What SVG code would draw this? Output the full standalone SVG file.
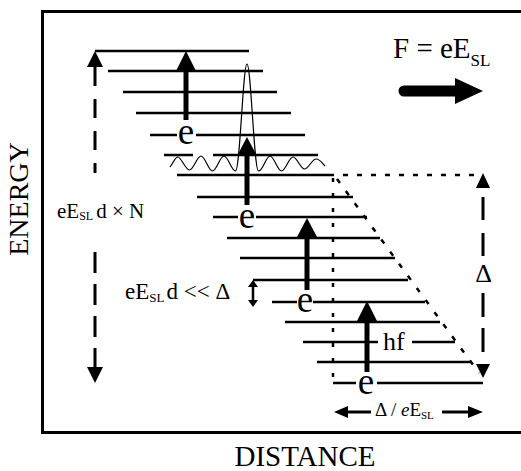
<svg xmlns="http://www.w3.org/2000/svg" width="521" height="471" viewBox="0 0 521 471">
<style>
text{font-family:'Liberation Serif','Times New Roman',serif;fill:#000}
.lvl{stroke:#000;stroke-width:2.5;fill:none}
.shaft{stroke:#000;stroke-width:5;fill:none}
.head{fill:#000;stroke:none}
.dash{stroke:#000;stroke-width:3;fill:none}
.dot{stroke:#000;stroke-width:2.5;fill:none}
.e{font-size:37px;text-anchor:middle}
</style>
<rect width="521" height="471" fill="#fff"/>
<g id="frame"><rect x="42.5" y="11.5" width="520" height="421" fill="none" stroke="#000" stroke-width="3"/></g>
<g id="axis-labels">
<text transform="translate(28,199) rotate(-90)" font-size="28" text-anchor="middle">ENERGY</text>
<text x="305" y="466" font-size="29" text-anchor="middle">DISTANCE</text>
</g>
<g id="levels">
<path class="lvl" d="M95,51H249 M108,71H263 M123,92H277 M136,113H291 M150,135H177 M196,135H305 M164,155H193 M213,155H318 M177,175H334 M197,197H353 M213,217H238 M256,217H367 M227,238H380 M240,258H395 M253,280H408 M272,302H297 M313,302H425 M285,322H440 M303,342H378 M412,342H455 M317,362H472 M333,383H356 M377,383H483"/>
</g>
<g id="wavepacket">
<path fill="none" stroke="#000" stroke-width="1.2" d="M170,167 C174,162 175,157 178,157 S185.5,170 189.5,170 S197,156 201,156 S208.5,171 212.5,171 S220,156 224,156 S231.5,171 235.5,171 C240,171 243,64 247,64 C251,64 254,171 258.5,171 S266,156 270,156 S277.5,171 281.5,171 S289,157 293,157 S300.5,169 304.5,169 S312,159 316,159 S322,163 325,166"/>
</g>
<g id="dotted-guides">
<path class="dot" stroke-dasharray="5 9" d="M343,175H477"/>
<path class="dot" stroke-dasharray="4 11" d="M333,178V383"/>
<path class="dot" stroke-dasharray="5 10" d="M337,179L479,373"/>
</g>
<g id="connectors">
<g id="transition-1"><path class="shaft" d="M186,120V70"/><polygon class="head" points="186,51 196,71 176,71"/></g>
<g id="transition-2"><path class="shaft" d="M247,205V155"/><polygon class="head" points="247,137 257,156 237,156"/></g>
<g id="transition-3"><path class="shaft" d="M307,290V236"/><polygon class="head" points="307,218 317,237 297,237"/></g>
<g id="transition-4"><path class="shaft" d="M367,372V320"/><polygon class="head" points="367,301 377,321 357,321"/></g>
<g id="total-drop">
<polygon class="head" points="95,51 103,67 87,67"/>
<path class="dash" stroke-dasharray="19 13" d="M95,67V173"/>
<path class="dash" stroke-dasharray="21 11" d="M95,252V367"/>
<polygon class="head" points="95,383 103,367 87,367"/>
</g>
<g id="delta-arrow">
<polygon class="head" points="483,173 490,188 476,188"/>
<path class="dash" stroke-dasharray="23 13" d="M483,197V256"/>
<path class="dash" stroke-dasharray="24 11" d="M483,293V362"/>
<polygon class="head" points="483,378 490,364 476,364"/>
</g>
<g id="spacing-arrow">
<polygon class="head" points="253,280 258,287 248,287"/>
<path stroke="#000" stroke-width="2.5" d="M253,286V301"/>
<polygon class="head" points="253,307 258,300 248,300"/>
</g>
<g id="length-arrow">
<polygon class="head" points="334,412 348,406 348,418"/>
<path stroke="#000" stroke-width="3" d="M347,412H371 M442,412H469"/>
<polygon class="head" points="483,412 468,406 468,418"/>
</g>
<g id="force-arrow">
<path stroke="#000" stroke-width="11" stroke-linecap="round" d="M404,91H457"/>
<polygon class="head" points="483,91 455,78 455,104"/>
</g>
</g>
<g id="labels">
<text class="e" x="186" y="144">e</text>
<text class="e" x="247" y="228">e</text>
<text class="e" x="305" y="312">e</text>
<text class="e" x="366" y="394">e</text>
<text x="383" y="350" font-size="26">hf</text>
<text x="483.5" y="282" font-size="26" text-anchor="middle">Δ</text>
<text x="393" y="58" font-size="29">F = eE<tspan font-size="17" dy="8">SL</tspan></text>
<text x="57" y="218" font-size="21">eE<tspan font-size="12" dy="2">SL</tspan><tspan dy="-2" dx="3">d × N</tspan></text>
<text x="125" y="299" font-size="23">eE<tspan font-size="13" dy="3">SL</tspan><tspan dy="-3" dx="2">d &lt;&lt; Δ</tspan></text>
<text x="375" y="416" font-size="19">Δ / <tspan font-style="italic">e</tspan>E<tspan font-size="11" dy="3">SL</tspan></text>
</g>
</svg>
